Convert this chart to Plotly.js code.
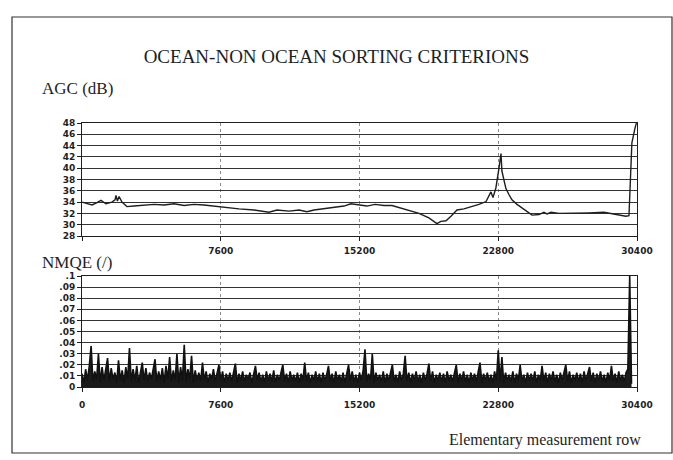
<!DOCTYPE html>
<html>
<head>
<meta charset="utf-8">
<script src="https://cdn.plot.ly/plotly-3.0.1.min.js"></script>
<style>
  html, body { margin: 0; padding: 0; background: #ffffff; }
  #chart { width: 673px; height: 460px; }
</style>
</head>
<body>
<div id="chart"></div>
<script>
// ---- Data ----
const xTickVals = [0, 7600, 15200, 22800, 30400];
const xTickTextTop = ['', '7600', '15200', '22800', '30400'];
const xTickTextBottom = ['0', '7600', '15200', '22800', '30400'];

const agcTickVals = [28, 30, 32, 34, 36, 38, 40, 42, 44, 46, 48];
const agcTickText = ['28', '30', '32', '34', '36', '38', '40', '42', '44', '46', '48'];

const nmqeTickVals = [0, 0.01, 0.02, 0.03, 0.04, 0.05, 0.06, 0.07, 0.08, 0.09, 0.1];
const nmqeTickText = ['0', '.01', '.02', '.03', '.04', '.05', '.06', '.07', '.08', '.09', '.1'];

// AGC (dB) versus elementary measurement row
const agcRow = [0, 270, 550, 820, 1040, 1310, 1640, 1810, 1860, 1940, 2030, 2190, 2460, 2850, 3400,
  3940, 4490, 5040, 5590, 6130, 6680, 7230, 7780, 8600, 9420, 10240, 10680, 11340, 11890, 12320,
  12710, 13530, 14350, 14730, 15170, 15610, 16050, 16540, 16980, 17530, 18020, 18460, 19000, 19440,
  19660, 19940, 20210, 20540, 20920, 21360, 21740, 22130, 22290, 22400, 22510, 22670, 22840, 22950,
  23000, 23110, 23220, 23390, 23550, 23830, 24100, 24370, 24650, 25030, 25300, 25470, 25690, 26130,
  26950, 27770, 28590, 29140, 29790, 29960, 30120, 30290, 30370];
const agcDb = [34.0, 33.8, 33.5, 33.9, 34.3, 33.7, 34.0, 34.4, 35.2, 34.2, 35.0, 34.0, 33.2, 33.3, 33.4,
  33.6, 33.5, 33.7, 33.4, 33.6, 33.5, 33.3, 33.0, 32.8, 32.6, 32.2, 32.6, 32.4, 32.6, 32.3,
  32.6, 32.9, 33.3, 33.7, 33.5, 33.3, 33.6, 33.4, 33.4, 32.9, 32.5, 32.0, 31.2, 30.2,
  30.6, 30.7, 31.5, 32.6, 32.8, 33.2, 33.6, 34.1, 35.0, 35.8, 34.8, 36.5, 40.0, 42.6,
  39.5, 38.0, 36.4, 35.3, 34.4, 33.6, 33.0, 32.3, 31.7, 31.8, 32.2, 31.9, 32.2, 32.0,
  32.0, 32.1, 32.2, 31.9, 31.5, 31.6, 44.5, 47.1, 48.0];

// NMQE (/) sampled every rowStep measurement rows
const rowStep = 100;
const nmqeValues = [
  0.012,0.004,0.016,0.006,0.019,0.037,0.005,0.014,0.007,0.030,0.004,0.018,0.006,0.015,0.026,0.005,0.017,0.007,0.013,0.004,
  0.024,0.006,0.015,0.004,0.018,0.007,0.035,0.005,0.016,0.006,0.019,0.004,0.014,0.022,0.006,0.017,0.005,0.013,0.007,0.018,
  0.025,0.005,0.014,0.006,0.017,0.004,0.019,0.007,0.027,0.005,0.015,0.006,0.030,0.004,0.018,0.006,0.038,0.005,0.016,0.007,
  0.028,0.004,0.015,0.006,0.013,0.005,0.022,0.006,0.014,0.004,0.012,0.007,0.016,0.005,0.013,0.020,0.006,0.014,0.004,0.012,
  0.006,0.013,0.005,0.015,0.021,0.004,0.012,0.006,0.014,0.005,0.011,0.007,0.013,0.004,0.012,0.019,0.006,0.013,0.005,0.011,
  0.004,0.014,0.006,0.012,0.005,0.015,0.004,0.011,0.006,0.013,0.020,0.005,0.012,0.004,0.014,0.006,0.011,0.005,0.013,0.004,
  0.012,0.006,0.022,0.005,0.013,0.004,0.011,0.006,0.014,0.005,0.012,0.004,0.013,0.006,0.011,0.019,0.005,0.012,0.004,0.014,
  0.006,0.011,0.005,0.013,0.004,0.012,0.020,0.006,0.014,0.005,0.011,0.004,0.013,0.006,0.015,0.034,0.005,0.012,0.006,0.030,
  0.004,0.013,0.006,0.011,0.005,0.014,0.004,0.012,0.006,0.013,0.020,0.005,0.011,0.004,0.014,0.006,0.012,0.028,0.005,0.013,
  0.004,0.012,0.006,0.014,0.005,0.011,0.004,0.013,0.006,0.012,0.021,0.005,0.014,0.004,0.011,0.006,0.013,0.005,0.012,0.004,
  0.014,0.006,0.011,0.005,0.013,0.020,0.004,0.012,0.006,0.014,0.005,0.011,0.004,0.013,0.006,0.012,0.005,0.014,0.022,0.004,
  0.012,0.006,0.013,0.005,0.011,0.004,0.014,0.006,0.033,0.005,0.027,0.004,0.013,0.006,0.011,0.005,0.014,0.004,0.012,0.006,
  0.020,0.005,0.011,0.004,0.013,0.006,0.012,0.005,0.014,0.004,0.011,0.006,0.019,0.005,0.013,0.004,0.012,0.006,0.014,0.005,
  0.011,0.004,0.013,0.006,0.012,0.020,0.005,0.014,0.004,0.011,0.006,0.013,0.005,0.012,0.004,0.014,0.006,0.011,0.018,0.005,
  0.013,0.004,0.012,0.006,0.014,0.005,0.011,0.004,0.013,0.006,0.019,0.005,0.012,0.004,0.014,0.006,0.011,0.005,0.013,0.016,
  0.100,0.003
];
const nmqeRow = nmqeValues.map((v, i) => i * rowStep);

// ---- Styling ----
const ink = '#1e1e1e';
const gridInk = '#333333';
const serif = 'Liberation Serif, Times New Roman, serif';
const tickFont = { family: 'DejaVu Sans, Verdana, sans-serif', size: 9, color: ink, weight: 'bold' };

function xAxis(ticktext, anchor, standoff) {
  return {
    anchor: anchor,
    range: [0, 30400],
    tickmode: 'array', tickvals: xTickVals, ticktext: ticktext,
    ticks: 'outside', ticklen: 4, tickcolor: ink, tickwidth: 1,
    showline: true, linecolor: ink, linewidth: 1, mirror: true,
    showgrid: true, gridcolor: '#8a8a8a', griddash: 'dot', gridwidth: 1,
    zeroline: false, tickfont: tickFont, ticklabelstandoff: standoff
  };
}

const data = [
  { x: agcRow, y: agcDb, type: 'scatter', mode: 'lines', xaxis: 'x', yaxis: 'y',
    line: { color: ink, width: 1.4 }, hoverinfo: 'skip', showlegend: false },
  { x: nmqeRow, y: nmqeValues, type: 'scatter', mode: 'lines', xaxis: 'x2', yaxis: 'y2',
    fill: 'tozeroy', fillcolor: '#1a1a1a',
    line: { color: '#111', width: 1.6 }, hoverinfo: 'skip', showlegend: false }
];

const L = 82, R = 637, T = 123, B = 387;
const W = R - L, H = B - T;
const py = (pix) => (B - pix) / H;
const px = (pix) => (pix - L) / W;

const layout = {
  width: 673, height: 460,
  margin: { l: L, r: 673 - R, t: T, b: 460 - B, pad: 0 },
  paper_bgcolor: '#ffffff', plot_bgcolor: '#ffffff',
  showlegend: false,
  title: { text: 'OCEAN-NON OCEAN SORTING CRITERIONS', font: { family: serif, size: 19, color: ink },
           xref: 'container', x: 0.5, xanchor: 'center', yref: 'container', y: 1 - 56 / 460, yanchor: 'middle' },
  xaxis: xAxis(xTickTextTop, 'y', 2),
  yaxis: {
    domain: [py(236), 1], range: [28, 48],
    tickmode: 'array', tickvals: agcTickVals, ticktext: agcTickText,
    ticks: 'outside', ticklen: 4, tickcolor: ink,
    showline: true, linecolor: ink, linewidth: 1, mirror: true,
    showgrid: true, gridcolor: gridInk, gridwidth: 1, zeroline: false,
    tickfont: tickFont
  },
  xaxis2: xAxis(xTickTextBottom, 'y2', 5),
  yaxis2: {
    domain: [0, py(276)], range: [0, 0.1],
    tickmode: 'array', tickvals: nmqeTickVals, ticktext: nmqeTickText,
    ticks: 'outside', ticklen: 4, tickcolor: ink,
    showline: true, linecolor: ink, linewidth: 1, mirror: true,
    showgrid: true, gridcolor: gridInk, gridwidth: 1, zeroline: false,
    tickfont: tickFont
  },
  annotations: [
    { text: 'AGC (dB)', xref: 'paper', yref: 'paper', x: px(40), y: py(88), xanchor: 'left', yanchor: 'middle',
      showarrow: false, font: { family: serif, size: 17, color: ink } },
    { text: 'NMQE (/)', xref: 'paper', yref: 'paper', x: px(40), y: py(262), xanchor: 'left', yanchor: 'middle',
      showarrow: false, font: { family: serif, size: 17, color: ink } },
    { text: 'Elementary measurement row', xref: 'paper', yref: 'paper', x: px(643), y: py(440), xanchor: 'right', yanchor: 'middle',
      showarrow: false, font: { family: serif, size: 16, color: ink } }
  ],
  shapes: [
    { type: 'rect', xref: 'paper', yref: 'paper', x0: px(12), x1: px(672), y0: py(453), y1: py(17),
      line: { color: '#333', width: 1.2 }, fillcolor: 'rgba(0,0,0,0)', layer: 'below' }
  ]
};

Plotly.newPlot('chart', data, layout, { staticPlot: true, displayModeBar: false });
</script>
</body>
</html>
